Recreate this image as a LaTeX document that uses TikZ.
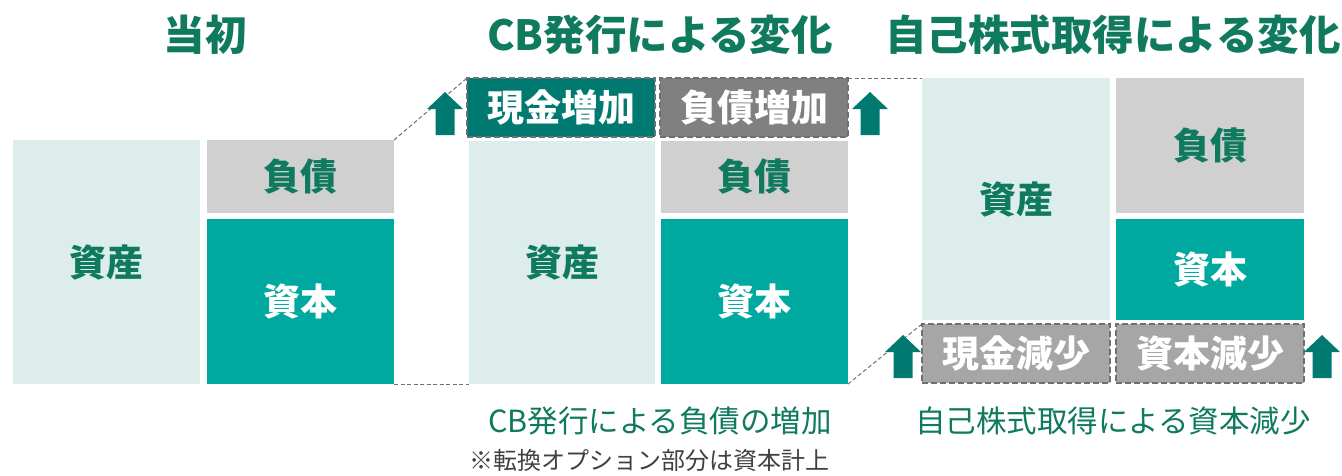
\documentclass[tikz,border=0pt]{standalone}
\usepackage{fontspec}
\newfontfamily\jp{Noto Sans CJK JP}
\definecolor{tgreen}{HTML}{0F7A5E}
\definecolor{tlight}{HTML}{DDEDEC}
\definecolor{tgray}{HTML}{D0D0D0}
\definecolor{tteal}{HTML}{00A9A0}
\definecolor{tdark}{HTML}{007A70}
\definecolor{tmid}{HTML}{808080}
\definecolor{tlgray}{HTML}{A6A6A6}
\definecolor{tborder}{HTML}{707070}
\definecolor{tnote}{HTML}{404040}
\tikzset{
  blk/.style={inner sep=0pt, outer sep=0pt, draw=none, font=\jp\bfseries\fontsize{37}{37}\selectfont},
  assetbox/.style={blk, fill=tlight, text=tgreen},
  debtbox/.style={blk, fill=tgray, text=tgreen},
  eqbox/.style={blk, fill=tteal, text=white},
  chgbox/.style={blk, draw=tborder, line width=1.8pt, dash pattern=on 6pt off 3pt, text=white},
  guide/.style={draw=tborder, line width=1pt, dash pattern=on 4pt off 2.5pt},
  ttl/.style={font=\jp\bfseries\fontsize{41.5}{41.5}\selectfont, text=tgreen, inner sep=0pt},
  captext/.style={font=\jp\fontsize{30.5}{30.5}\selectfont, text=tgreen, inner sep=0pt},
  notetext/.style={font=\jp\fontsize{24}{24}\selectfont, text=tnote, inner sep=0pt},
  uparrow/.pic={\fill[tdark] (-9.5,0) -- (-9.5,-26) -- (-18,-26) -- (0,-43) -- (18,-26) -- (9.5,-26) -- (9.5,0) -- cycle;}
}
\begin{document}
\begin{tikzpicture}[x=1pt,y=-1pt]
\useasboundingbox (0,0) rectangle (1342,475);
% titles
\node[ttl] (t1) at (205,35) {当初};
\node[ttl] (t2) at (660,35) {CB発行による変化};
\node[ttl] (t3) at (1113,35) {自己株式取得による変化};
% panel 1
\node[assetbox, minimum width=187pt, minimum height=244pt] (a1) at (106.5,262) {資産};
\node[debtbox, minimum width=187pt, minimum height=73pt] (d1) at (300.5,176.5) {負債};
\node[eqbox, minimum width=187pt, minimum height=165pt] (e1) at (300.5,301.5) {資本};
% panel 2
\node[chgbox, fill=tdark, minimum width=188pt, minimum height=59pt] (c2) at (561,107.5) {現金増加};
\node[chgbox, fill=tmid, minimum width=188pt, minimum height=59pt] (i2) at (754,107.5) {負債増加};
\node[assetbox, minimum width=186pt, minimum height=243pt] (a2) at (562,262.5) {資産};
\node[debtbox, minimum width=187pt, minimum height=72pt] (d2) at (754.5,177) {負債};
\node[eqbox, minimum width=187pt, minimum height=165pt] (e2) at (754.5,301.5) {資本};
% panel 3
\node[assetbox, minimum width=188pt, minimum height=242pt] (a3) at (1016,199) {資産};
\node[debtbox, minimum width=188pt, minimum height=135pt] (d3) at (1210,145.5) {負債};
\node[eqbox, minimum width=188pt, minimum height=101pt] (e3) at (1210,269.5) {資本};
\node[chgbox, fill=tlgray, minimum width=188pt, minimum height=59pt] (c3) at (1016,353.5) {現金減少};
\node[chgbox, fill=tlgray, minimum width=188pt, minimum height=59pt] (r3) at (1210,353.5) {資本減少};
% guide lines
\draw[guide] (d1.north east) -- (c2.north west);
\draw[guide] (e1.south east) -- (a2.south west);
\draw[guide] (i2.north east) -- (a3.north west);
\draw[guide] (e2.south east) -- (c3.north west);
% arrows
\pic at (445,135) {uparrow};
\pic at (870,135) {uparrow};
\pic at (903,378) {uparrow};
\pic at (1322,378) {uparrow};
% captions
\node[captext] (cap2) at (660,421) {CB発行による負債の増加};
\node[notetext] (note2) at (649,460) {※転換オプション部分は資本計上};
\node[captext] (cap3) at (1113,421) {自己株式取得による資本減少};
\end{tikzpicture}
\end{document}
